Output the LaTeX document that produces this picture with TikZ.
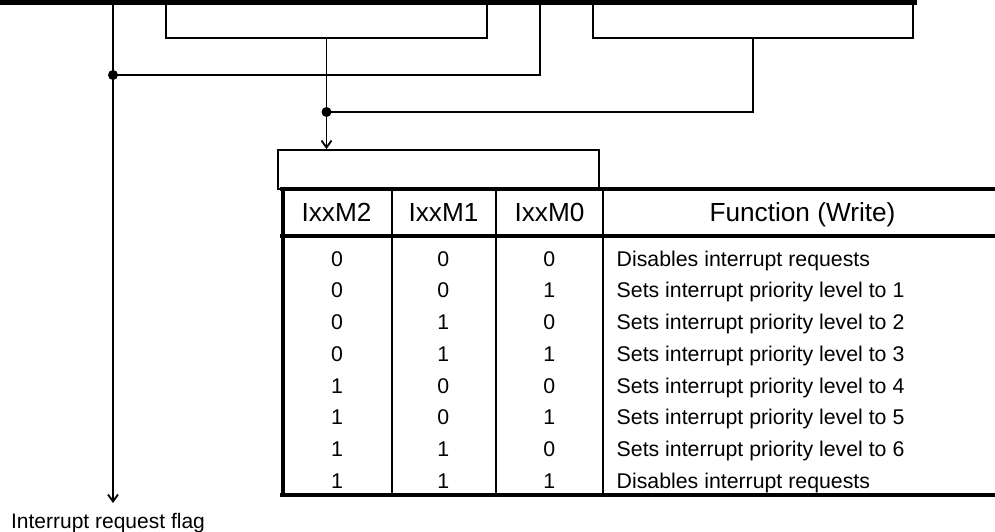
\documentclass[tikz,border=0pt]{standalone}
\usepackage{fontspec}
\setmainfont{Liberation Sans}
\usetikzlibrary{arrows.meta}
\begin{document}
\begin{tikzpicture}[x=1pt,y=-1pt,
  wire/.style={line width=1.8pt},
  arr/.style={wire,-{Straight Barb[length=7pt,width=10pt]}},
  regbox/.style={draw, line width=1.8pt, inner sep=0pt},
  frame/.style={line width=4pt},
  grid/.style={line width=1.8pt},
  hdr/.style={font=\fontsize{26.2}{30}\selectfont, inner sep=0pt, anchor=base},
  cell/.style={font=\fontsize{21.3}{25}\selectfont, inner sep=0pt, anchor=base},
  fn/.style={cell, anchor=base west},
  dot/.style={circle, fill, inner sep=0pt, minimum size=10pt}]
\useasboundingbox (0,0) rectangle (995,532);

% register bus along the top
\node[fill, inner sep=0pt, minimum width=917pt, minimum height=4.5pt,
      anchor=north west] (bus) at (0,0) {};

% bit-field boxes
\node[regbox, minimum width=321pt, minimum height=34pt] (box1) at (326.5,21) {};
\node[regbox, minimum width=320pt, minimum height=34pt] (box2) at (753,21) {};
\node[regbox, minimum width=321pt, minimum height=39pt] (box3) at (438.5,169.5) {};

% junctions and tap points
\node[dot] (j1) at (113,75) {};
\node[dot] (j2) at (326.5,112) {};
\coordinate (tapL) at (113,4);
\coordinate (tapM) at (540,4);
\coordinate (ftip) at (113,503);

% label
\node[font=\fontsize{21}{25}\selectfont, inner sep=0pt, anchor=base] (flag) at (108,528) {Interrupt request flag};

% connectors
\draw[arr] (bus.south -| tapL) -- (j1.center) -- (ftip);
\draw[wire] (bus.south -| tapM) |- (j1.center);
\draw[arr] (box1.south) -- (j2.center) -- (box3.north -| box1.south);
\draw[wire] (box2.south) |- (j2.center);

% table frame
\draw[frame] (280,188.7) -- (995,188.7);
\draw[frame] (280,236) -- (995,236);
\draw[frame] (280,494.7) -- (995,494.7);
\draw[frame] (282.5,186.7) -- (282.5,496.7);
\foreach \cx in {392.3,496,603.3}
  \draw[grid] (\cx,188.7) -- (\cx,494.7);

% table header
\node[hdr] (h2) at (336.5,221.5) {IxxM2};
\node[hdr] (h1) at (443.5,221.5) {IxxM1};
\node[hdr] (h0) at (549.5,221.5) {IxxM0};
\node[hdr] (hf) at (802.5,221.5) {Function (Write)};

% table body
\foreach \a/\b/\c/\t [count=\i from 0] in {
  0/0/0/Disables interrupt requests,
  0/0/1/Sets interrupt priority level to 1,
  0/1/0/Sets interrupt priority level to 2,
  0/1/1/Sets interrupt priority level to 3,
  1/0/0/Sets interrupt priority level to 4,
  1/0/1/Sets interrupt priority level to 5,
  1/1/0/Sets interrupt priority level to 6,
  1/1/1/Disables interrupt requests}{
  \pgfmathsetmacro{\yy}{266+31.75*\i}
  \node[cell] (r\i a) at (337,\yy) {\a};
  \node[cell] (r\i b) at (443.3,\yy) {\b};
  \node[cell] (r\i c) at (549.3,\yy) {\c};
  \node[fn]   (r\i f) at (616.5,\yy) {\t};
}
\end{tikzpicture}
\end{document}
